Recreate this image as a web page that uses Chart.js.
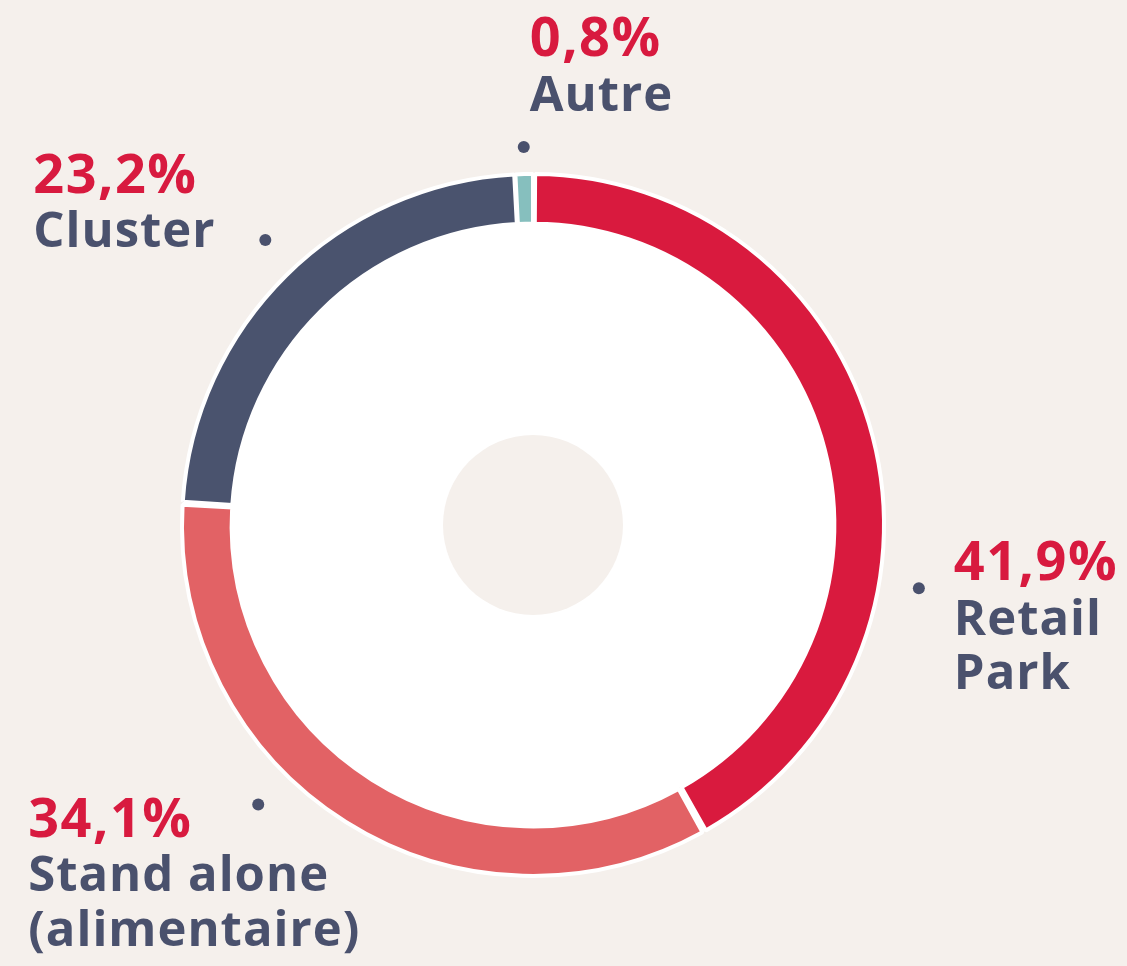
<!DOCTYPE html>
<html>
<head>
<meta charset="utf-8">
<script src="https://cdn.jsdelivr.net/npm/chart.js@4.4.1/dist/chart.umd.min.js"></script>
<style>
  html, body { margin: 0; padding: 0; background: #F5F0EC; }
  #wrap { position: relative; width: 1127px; height: 966px; }
</style>
</head>
<body>
<div id="wrap"><canvas id="c"></canvas></div>
<script>
// ---- data ----
const categories = ['Retail Park', 'Stand alone (alimentaire)', 'Cluster', 'Autre'];
const labelLines = [['Retail', 'Park'], ['Stand alone', '(alimentaire)'], ['Cluster'], ['Autre']];
const values = [41.9, 34.1, 23.2, 0.8];
const percentLabels = ['41,9%', '34,1%', '23,2%', '0,8%'];
const colors = ['#D91A3E', '#E26265', '#4A536E', '#86BFBE'];

// label placement (dot angle in degrees clockwise from top, dot radius, text offset from dot)
const labelPlacement = [
  { angle: 99.3, radius: 391, dx: 35, dy: -8 },
  { angle: 224.5, radius: 392, dx: -230, dy: 32 },
  { angle: 316.8, radius: 391, dx: -232, dy: -47 },
  { angle: 358.6, radius: 378, dx: 6, dy: -91 }
];

const BG = '#F5F0EC';
const TEXT_RED = '#D81A3F';
const TEXT_DARK = '#4A516D';

const innerFill = {
  id: 'innerFill',
  beforeDatasetsDraw(chart) {
    const arc = chart.getDatasetMeta(0).data[0];
    if (!arc) return;
    const ctx = chart.ctx;
    ctx.save();
    ctx.fillStyle = '#FFFFFF';
    ctx.beginPath();
    ctx.arc(arc.x, arc.y, arc.innerRadius + 1, 0, Math.PI * 2);
    ctx.fill();
    ctx.fillStyle = BG;
    ctx.beginPath();
    ctx.arc(arc.x, arc.y, 90, 0, Math.PI * 2);
    ctx.fill();
    ctx.restore();
  }
};

const outerLabels = {
  id: 'outerLabels',
  afterDraw(chart) {
    const meta = chart.getDatasetMeta(0);
    const ctx = chart.ctx;
    ctx.save();
    meta.data.forEach((arc, i) => {
      const p = labelPlacement[i];
      const a = (p.angle - 90) * Math.PI / 180;
      const dxp = arc.x + Math.cos(a) * p.radius;
      const dyp = arc.y + Math.sin(a) * p.radius;
      ctx.fillStyle = TEXT_DARK;
      ctx.beginPath();
      ctx.arc(dxp, dyp, 6, 0, Math.PI * 2);
      ctx.fill();
      const tx = dxp + p.dx;
      let ty = dyp + p.dy;
      ctx.textAlign = 'left';
      ctx.textBaseline = 'alphabetic';
      ctx.letterSpacing = '1.5px';
      ctx.font = '700 54px "Open Sans"';
      ctx.fillStyle = TEXT_RED;
      ctx.fillText(percentLabels[i], tx, ty);
      ctx.letterSpacing = '1px';
      ctx.font = '700 49px "Open Sans"';
      ctx.fillStyle = TEXT_DARK;
      labelLines[i].forEach(line => {
        ty += 54.5;
        ctx.fillText(line, tx, ty);
      });
    });
    ctx.restore();
  }
};

new Chart(document.getElementById('c'), {
  type: 'doughnut',
  data: {
    labels: categories,
    datasets: [{
      data: values,
      backgroundColor: colors,
      borderColor: '#FFFFFF',
      borderWidth: 4,
      spacing: 3,
      hoverOffset: 0
    }]
  },
  options: {
    responsive: true,
    maintainAspectRatio: false,
    animation: false,
    cutout: '85.8%',
    rotation: 0,
    layout: { padding: { top: 172, bottom: 88, left: 180, right: 241 } },
    plugins: { legend: { display: false }, tooltip: { enabled: false } },
    events: []
  },
  plugins: [innerFill, outerLabels]
});
</script>
</body>
</html>
